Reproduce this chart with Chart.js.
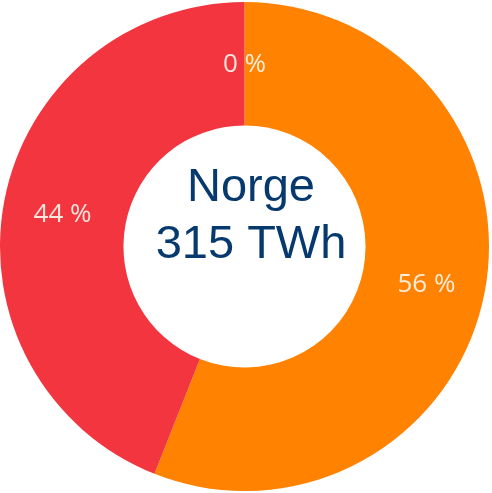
<!DOCTYPE html>
<html>
<head>
<meta charset="utf-8">
<script src="https://cdn.jsdelivr.net/npm/chart.js@4/dist/chart.umd.min.js"></script>
<style>
  html, body { margin: 0; padding: 0; background: #ffffff; }
  #wrap { position: relative; width: 492px; height: 493px; }
</style>
</head>
<body>
<div id="wrap"><canvas id="c" width="492" height="493"></canvas></div>
<script>
// Data
const categories = ["Annet", "Kategori A", "Kategori B"];
const percentValues = [0, 56, 44];
const sliceColors = ["#f2353e", "#ff8200", "#f2353e"];
const centerLines = ["Norge", "315 TWh"];

const labelPlugin = {
  id: 'sliceLabels',
  afterDatasetsDraw(chart) {
    const ctx = chart.ctx;
    const meta = chart.getDatasetMeta(0);
    ctx.save();
    ctx.font = '26px "Open Sans", sans-serif';
    ctx.fillStyle = 'rgba(255,245,235,0.92)';
    ctx.textAlign = 'center';
    ctx.textBaseline = 'middle';
    meta.data.forEach((arc, i) => {
      const p = arc.getProps(['x','y','startAngle','endAngle','innerRadius','outerRadius'], true);
      const mid = (p.startAngle + p.endAngle) / 2;
      const r = p.innerRadius + (p.outerRadius - p.innerRadius) * 0.52;
      const x = p.x + Math.cos(mid) * r;
      const y = p.y + Math.sin(mid) * r + 3;
      ctx.fillText(percentValues[i] + ' %', x, y);
    });
    ctx.restore();
  }
};

const centerPlugin = {
  id: 'centerText',
  afterDraw(chart) {
    const ctx = chart.ctx;
    const meta = chart.getDatasetMeta(0);
    const arc = meta.data[0];
    const cx = arc.x + 6.5;
    const cy = arc.y;
    ctx.save();
    ctx.font = '47px "Liberation Sans", Arial, sans-serif';
    ctx.fillStyle = '#063a6f';
    ctx.textAlign = 'center';
    ctx.textBaseline = 'alphabetic';
    ctx.fillText(centerLines[0], cx, cy - 46);
    ctx.fillText(centerLines[1], cx, cy + 11);
    ctx.restore();
  }
};

new Chart(document.getElementById('c'), {
  type: 'doughnut',
  data: {
    labels: categories,
    datasets: [{
      data: percentValues,
      backgroundColor: sliceColors,
      borderWidth: 0,
      hoverOffset: 0
    }]
  },
  options: {
    responsive: false,
    animation: false,
    cutout: '49.5%',
    layout: { padding: { top: 1, bottom: 1, left: 0, right: 3 } },
    plugins: {
      legend: { display: false },
      tooltip: { enabled: false }
    }
  },
  plugins: [labelPlugin, centerPlugin]
});
</script>
</body>
</html>
